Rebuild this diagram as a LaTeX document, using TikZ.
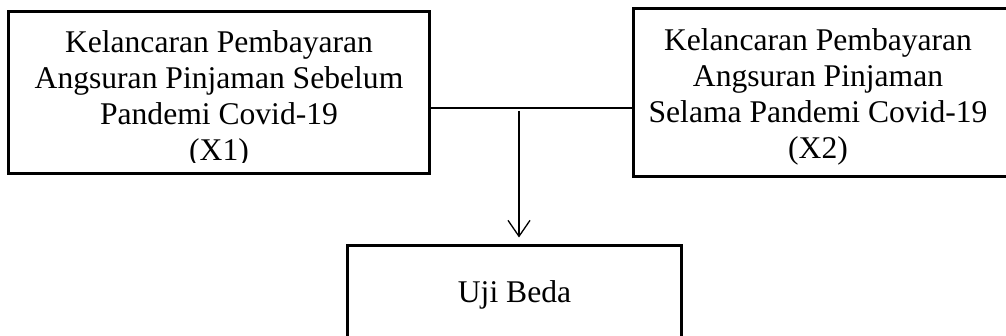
\documentclass[tikz,border=0pt]{standalone}
\usepackage{fontspec}
\setmainfont{Liberation Serif}
\usetikzlibrary{arrows.meta}
\begin{document}
\begin{tikzpicture}[x=1pt,y=-1pt,
  box/.style={draw,line width=3pt,inner sep=0pt},
  lbl/.style={font=\fontsize{31.6}{36}\selectfont,align=center,inner sep=0pt,anchor=base},
  conn/.style={line width=1.3pt}]
\useasboundingbox (0,0) rectangle (1006,336);
\node[box,minimum width=421pt,minimum height=162pt] (x1) at (218.5,93) {};
\node[box,minimum width=374pt,minimum height=168pt] (x2) at (820,93) {};
\node[box,minimum width=334pt,minimum height=134pt] (u) at (514,313) {};
\begin{scope}
\clip (11,15) rectangle (426,163);
\node[lbl] (t1) at (219,161) {Kelancaran Pembayaran\\Angsuran Pinjaman Sebelum\\Pandemi Covid-19\\(X1)};
\end{scope}
\node[lbl] (t2) at (818,159) {Kelancaran Pembayaran\\Angsuran Pinjaman\\Selama Pandemi Covid-19\\(X2)};
\node[lbl] (t3) at (514.5,303) {Uji Beda};
\coordinate (j) at (519,108);
\draw[conn] (x1.east |- j) -- (x2.west |- j);
\draw[conn,-{Straight Barb[length=16pt,width=22pt]},shorten <=3pt,shorten >=7pt] (j) -- (u.north -| j);
\end{tikzpicture}
\end{document}
